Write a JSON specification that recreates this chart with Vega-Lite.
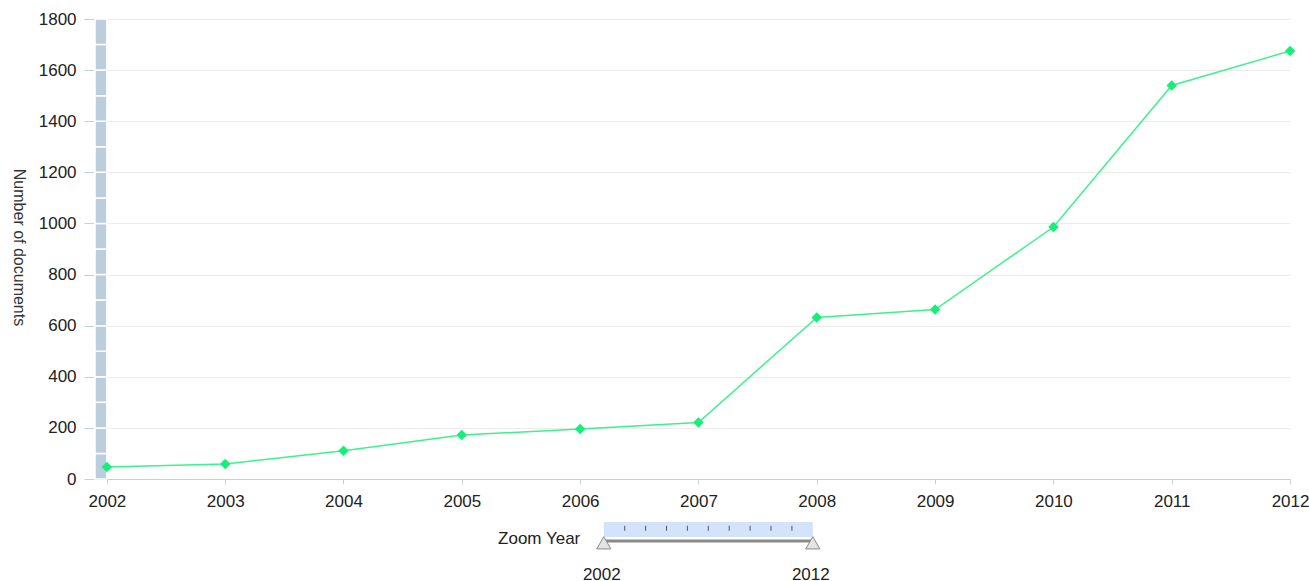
{
  "$schema": "https://vega.github.io/schema/vega-lite/v6.json",
  "padding": {"left": 10, "top": 10, "right": 0, "bottom": 0},
  "background": "white",
  "config": {
    "font": "Liberation Sans",
    "view": {"stroke": null},
    "concat": {"spacing": 13}
  },
  "center": true,
  "vconcat": [
    {
      "width": 1195,
      "height": 460,
      "layer": [
        {
          "data": {"values": [
            {"lo": 0, "hi": 100}, {"lo": 100, "hi": 200}, {"lo": 200, "hi": 300}, {"lo": 300, "hi": 400},
            {"lo": 400, "hi": 500}, {"lo": 500, "hi": 600}, {"lo": 600, "hi": 700}, {"lo": 700, "hi": 800},
            {"lo": 800, "hi": 900}, {"lo": 900, "hi": 1000}, {"lo": 1000, "hi": 1100}, {"lo": 1100, "hi": 1200},
            {"lo": 1200, "hi": 1300}, {"lo": 1300, "hi": 1400}, {"lo": 1400, "hi": 1500}, {"lo": 1500, "hi": 1600},
            {"lo": 1600, "hi": 1700}, {"lo": 1700, "hi": 1800}
          ]},
          "mark": {"type": "rect", "color": "#bccddd", "stroke": "white", "strokeWidth": 1.5},
          "encoding": {
            "x": {"datum": 2001.9, "type": "quantitative"},
            "x2": {"datum": 2002},
            "y": {"field": "lo", "type": "quantitative"},
            "y2": {"field": "hi"}
          }
        },
        {
          "data": {"values": [
            {"year": 2002, "documents": 47},
            {"year": 2003, "documents": 59},
            {"year": 2004, "documents": 111},
            {"year": 2005, "documents": 172},
            {"year": 2006, "documents": 196},
            {"year": 2007, "documents": 221},
            {"year": 2008, "documents": 632},
            {"year": 2009, "documents": 663},
            {"year": 2010, "documents": 986},
            {"year": 2011, "documents": 1540},
            {"year": 2012, "documents": 1675}
          ]},
          "mark": {
            "type": "line",
            "color": "#3cf28c",
            "strokeWidth": 1.5,
            "point": {"shape": "diamond", "size": 110, "filled": true, "color": "#14ef78", "opacity": 1}
          },
          "encoding": {
            "x": {
              "field": "year",
              "type": "quantitative",
              "scale": {"domain": [2001.9, 2012], "nice": false, "zero": false},
              "axis": {
                "values": [2002, 2003, 2004, 2005, 2006, 2007, 2008, 2009, 2010, 2011, 2012],
                "format": "d",
                "title": null,
                "grid": false,
                "labelFontSize": 17,
                "labelColor": "#222222",
                "labelPadding": 9,
                "labelFlush": false,
                "labelOverlap": false,
                "tickColor": "#c3d1df",
                "tickSize": 5,
                "domainColor": "#c3d1df"
              }
            },
            "y": {
              "field": "documents",
              "type": "quantitative",
              "scale": {"domain": [0, 1800], "nice": false},
              "axis": {
                "values": [0, 200, 400, 600, 800, 1000, 1200, 1400, 1600, 1800],
                "format": "d",
                "title": "Number of documents",
                "titleAngle": 90,
                "titleAlign": "center",
                "titleBaseline": "middle",
                "titleX": -77,
                "titleY": 228,
                "titleFontSize": 16,
                "titleFontWeight": "normal",
                "titleColor": "#333333",
                "grid": true,
                "gridColor": "#ececec",
                "domain": false,
                "tickColor": "#c3d1df",
                "tickSize": 11,
                "labelFontSize": 17,
                "labelColor": "#222222",
                "labelPadding": 8
              }
            }
          }
        }
      ]
    },
    {
      "width": 238,
      "height": 26,
      "layer": [
        {
          "data": {"values": [{"from": 2002, "to": 2012}]},
          "mark": {"type": "rect", "color": "#d3e3fb"},
          "encoding": {
            "x": {
              "field": "from",
              "type": "quantitative",
              "scale": {"domain": [2002, 2012], "range": [29, 238], "nice": false, "zero": false},
              "axis": {
                "values": [2002, 2012],
                "format": "d",
                "title": null,
                "grid": false,
                "domain": false,
                "ticks": false,
                "labelFlush": false,
                "labelOffset": -2.5,
                "labelFontSize": 17,
                "labelColor": "#222222",
                "labelPadding": 18
              }
            },
            "x2": {"field": "to"},
            "y": {
              "datum": 1,
              "type": "quantitative",
              "scale": {"domain": [0, 1], "nice": false},
              "axis": {
                "title": "Zoom Year",
                "titleAngle": 0,
                "titleAlign": "right",
                "titleBaseline": "middle",
                "titleX": 5,
                "titleY": 16,
                "titleFontSize": 17,
                "titleFontWeight": "normal",
                "titleColor": "#222222",
                "labels": false,
                "ticks": false,
                "domain": false,
                "grid": false
              }
            },
            "y2": {"datum": 0.42}
          }
        },
        {
          "data": {"values": [{"year": 2003}, {"year": 2004}, {"year": 2005}, {"year": 2006}, {"year": 2007}, {"year": 2008}, {"year": 2009}, {"year": 2010}, {"year": 2011}]},
          "mark": {"type": "tick", "orient": "vertical", "size": 5, "thickness": 1, "color": "#555555", "opacity": 1},
          "encoding": {
            "x": {"field": "year", "type": "quantitative"},
            "y": {"datum": 0.76, "type": "quantitative"}
          }
        },
        {
          "data": {"values": [{"from": 2002, "to": 2012}]},
          "mark": {"type": "rule", "color": "#8a8a8a", "strokeWidth": 3},
          "encoding": {
            "x": {"field": "from", "type": "quantitative"},
            "x2": {"field": "to"},
            "y": {"datum": 0.27, "type": "quantitative"}
          }
        },
        {
          "data": {"values": [{"year": 2002}, {"year": 2012}]},
          "mark": {"type": "point", "shape": "triangle-up", "size": 200, "filled": true, "fill": "#e4e4e4", "stroke": "#8a8a8a", "strokeWidth": 1, "opacity": 1},
          "encoding": {
            "x": {"field": "year", "type": "quantitative"},
            "y": {"datum": 0.2, "type": "quantitative"}
          }
        }
      ]
    }
  ]
}
